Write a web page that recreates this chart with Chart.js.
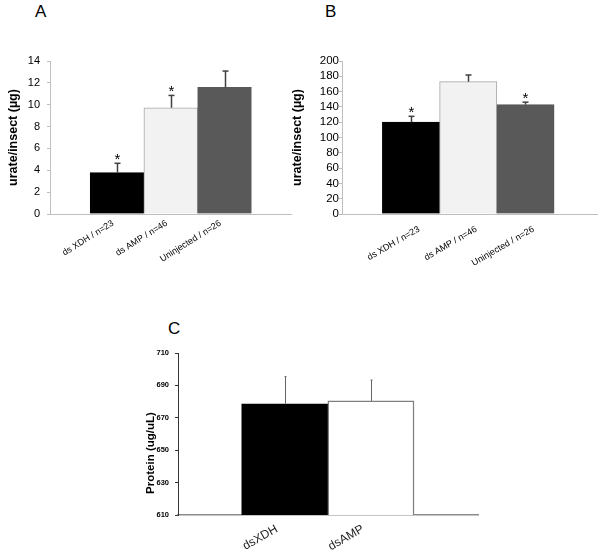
<!DOCTYPE html>
<html>
<head>
<meta charset="utf-8">
<script src="https://cdn.jsdelivr.net/npm/chart.js@4"></script>
<style>
  html, body { margin: 0; padding: 0; background: #fff; }
  body { width: 602px; height: 552px; position: relative; overflow: hidden; font-family: "Liberation Sans", Arial, sans-serif; }
  .box { position: absolute; }
  .lbl { position: absolute; font-size: 17px; line-height: 17px; color: #000; }
</style>
</head>
<body>
<div class="lbl" style="left:35px; top:3px;">A</div>
<div class="lbl" style="left:325px; top:3px;">B</div>
<div class="lbl" style="left:168px; top:320px;">C</div>
<div class="box" style="left:0px; top:0px; width:296px; height:300px;"><canvas id="cA" width="296" height="300"></canvas></div>
<div class="box" style="left:280px; top:0px; width:322px; height:300px;"><canvas id="cB" width="322" height="300"></canvas></div>
<div class="box" style="left:130px; top:300px; width:360px; height:252px;"><canvas id="cC" width="360" height="252"></canvas></div>
<script>
// ---------- data ----------
const categoriesA = ['ds XDH / n=23', 'ds AMP / n=46', 'Uninjected / n=26'];
const valuesA = [3.78, 9.72, 11.58];
const errorsA = [0.86, 1.13, 1.5];
const signifA = [true, true, false];

const categoriesB = ['ds XDH / n=23', 'ds AMP / n=46', 'Uninjected / n=26'];
const valuesB = [120, 173, 143];
const errorsB = [7.7, 8.7, 3.2];
const signifB = [true, false, true];

const categoriesC = ['dsXDH', 'dsAMP'];
const valuesC = [678.7, 680.4];
const errorsC = [16.7, 12.9];
const signifC = [false, false];

const ticksA = [0, 2, 4, 6, 8, 10, 12, 14];
const ticksB = [0, 20, 40, 60, 80, 100, 120, 140, 160, 180, 200];
const ticksC = [610, 630, 650, 670, 690, 710];

// ---------- styling ----------
const FONT = '"Liberation Sans", Arial, sans-serif';
Chart.defaults.font.family = FONT;
Chart.defaults.color = '#000';
const barFillABC = ['#000000', '#f2f2f2', '#595959'];
const barBorderABC = ['#000000', '#a6a6a6', '#595959'];

const errorBarPlugin = {
  id: 'errorBars',
  afterDatasetsDraw(chart, args, opts) {
    const ctx = chart.ctx;
    const meta = chart.getDatasetMeta(0);
    const ys = chart.scales.y;
    ctx.save();
    meta.data.forEach((bar, i) => {
      const top = ys.getPixelForValue(opts.values[i] + opts.errors[i]);
      const x = Math.round(bar.x) + 0.5;
      ctx.strokeStyle = opts.color;
      ctx.lineWidth = opts.width;
      ctx.beginPath();
      ctx.moveTo(x, bar.y);
      ctx.lineTo(x, top);
      ctx.stroke();
      if (opts.cap > 0) {
        ctx.beginPath();
        ctx.moveTo(x - opts.cap, top);
        ctx.lineTo(x + opts.cap, top);
        ctx.stroke();
      }
      if (opts.signif[i]) {
        ctx.fillStyle = '#000';
        ctx.font = '15px ' + FONT;
        ctx.textAlign = 'center';
        ctx.textBaseline = 'alphabetic';
        ctx.fillText('*', x, top + 1);
      }
    });
    ctx.restore();
  }
};

const sideTitlePlugin = {
  id: 'sideTitle',
  afterDraw(chart, args, opts) {
    if (!opts.text) return;
    const ctx = chart.ctx;
    ctx.save();
    ctx.translate(opts.x, opts.y);
    ctx.rotate(-Math.PI / 2);
    ctx.font = opts.font;
    ctx.fillStyle = '#000';
    ctx.textAlign = 'center';
    ctx.textBaseline = 'middle';
    ctx.fillText(opts.text, 0, 0);
    ctx.restore();
  }
};

function makeChart(id, cfg) {
  const data = cfg.values.map((v, i) => ({ x: i, y: v }));
  return new Chart(document.getElementById(id), {
    type: 'bar',
    data: {
      datasets: [{
        data: data,
        backgroundColor: cfg.fill,
        borderColor: cfg.border,
        borderWidth: cfg.borderWidth,
        borderSkipped: 'bottom',
        categoryPercentage: 1,
        barPercentage: 1
      }]
    },
    plugins: [errorBarPlugin, sideTitlePlugin],
    options: {
      responsive: false,
      animation: false,
      devicePixelRatio: 1,
      layout: { padding: cfg.padding },
      plugins: {
        legend: { display: false },
        tooltip: { enabled: false },
        errorBars: { values: cfg.values, errors: cfg.errors, signif: cfg.signif, color: cfg.errColor, width: cfg.errWidth, cap: cfg.cap },
        sideTitle: cfg.sideTitle || {}
      },
      scales: {
        x: {
          type: 'linear',
          offset: false,
          bounds: 'data',
          min: cfg.xMin,
          max: cfg.xMax,
          afterBuildTicks: (s) => { s.ticks = cfg.categories.map((_, i) => ({ value: i })); },
          afterFit: (s) => { s.height = cfg.xHeight; },
          grid: { display: false, offset: false },
          border: { color: cfg.xAxisColor, width: cfg.xAxisWidth },
          ticks: {
            autoSkip: false,
            minRotation: cfg.rotation,
            maxRotation: cfg.rotation,
            padding: cfg.xPad,
            labelOffset: cfg.xShift,
            font: cfg.xFont,
            color: cfg.xColor,
            callback: (v) => cfg.categories[v]
          }
        },
        y: {
          min: cfg.yTicks[0],
          max: cfg.yTicks[cfg.yTicks.length - 1],
          afterBuildTicks: (s) => { s.ticks = cfg.yTicks.map(v => ({ value: v })); },
          afterFit: (s) => { s.width = cfg.yWidth; },
          grid: { drawOnChartArea: false, drawTicks: true, tickLength: cfg.tickLen, color: cfg.yAxisColor },
          border: { color: cfg.yAxisColor, width: 1 },
          ticks: { autoSkip: false, padding: cfg.yPad, font: cfg.yFont, color: '#000' },
          title: cfg.yTitle
        }
      }
    }
  });
}

makeChart('cA', {
  categories: categoriesA, values: valuesA, errors: errorsA, signif: signifA, yTicks: ticksA,
  fill: barFillABC, border: barBorderABC, borderWidth: 1,
  padding: { left: 0, right: 5, top: 61, bottom: 0 },
  xMin: -1.247, xMax: 3.237, xHeight: 86, yWidth: 50,
  rotation: 32, xPad: -4, xShift: -4, xFont: { size: 9 }, xColor: '#000',
  xAxisColor: '#bfbfbf', xAxisWidth: 1, yAxisColor: '#bfbfbf',
  tickLen: 3, yPad: 7, yFont: { size: 11 },
  errColor: '#404040', errWidth: 1.5, cap: 3,
  yTitle: { display: true, text: 'urate/insect (µg)', font: { size: 12.5, weight: 'bold' }, padding: { top: 6, bottom: 0 }, color: '#000' }
});

makeChart('cB', {
  categories: categoriesB, values: valuesB, errors: errorsB, signif: signifB, yTicks: ticksB,
  fill: barFillABC, border: barBorderABC, borderWidth: 1,
  padding: { left: 0, right: 5, top: 61, bottom: 0 },
  xMin: -1.205, xMax: 3.249, xHeight: 86, yWidth: 62,
  rotation: 30, xPad: 2, xShift: 8, xFont: { size: 9 }, xColor: '#000',
  xAxisColor: '#bfbfbf', xAxisWidth: 1, yAxisColor: '#bfbfbf',
  tickLen: 3, yPad: 0, yFont: { size: 11.5 },
  errColor: '#404040', errWidth: 1.5, cap: 3,
  yTitle: { display: true, text: 'urate/insect (µg)', font: { size: 12.5, weight: 'bold' }, padding: { top: 10, bottom: 0 }, color: '#000' }
});

makeChart('cC', {
  categories: categoriesC, values: valuesC, errors: errorsC, signif: signifC, yTicks: ticksC,
  fill: ['#000000', '#ffffff'], border: ['#000000', '#808080'], borderWidth: 1.5,
  padding: { left: 0, right: 12, top: 53, bottom: 0 },
  xMin: -1.238, xMax: 2.242, xHeight: 37, yWidth: 48,
  rotation: 30, xPad: -1, xShift: -8, xFont: { size: 12 }, xColor: '#222',
  xAxisColor: '#8c8c8c', xAxisWidth: 1.5, yAxisColor: '#333333',
  tickLen: 3, yPad: 6, yFont: { size: 7.5, weight: 'bold' },
  errColor: '#666666', errWidth: 1, cap: 1,
  yTitle: { display: false },
  sideTitle: { text: 'Protein (ug/uL)', x: 20.7, y: 153, font: 'bold 11.5px ' + FONT }
});
</script>
</body>
</html>
